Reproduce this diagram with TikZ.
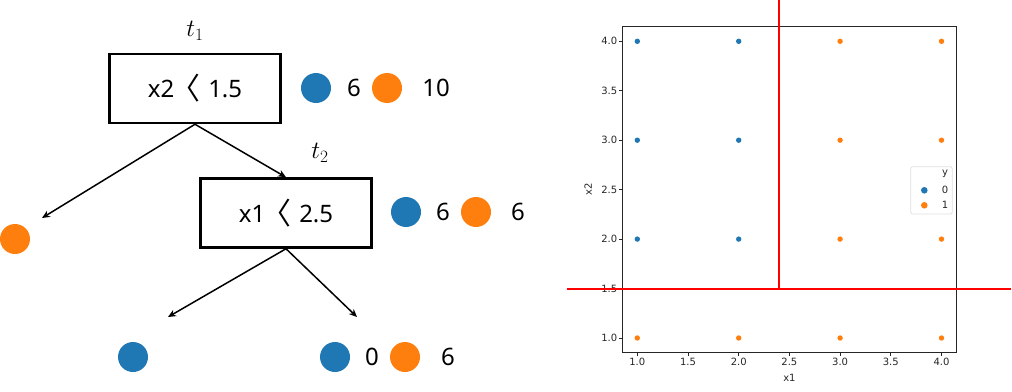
\documentclass[tikz,border=0pt]{standalone}
\usepackage{fontspec}
\setmainfont{DejaVu Sans}
\newfontfamily\treefont{Noto Sans}
\newfontfamily\cjk{Noto Sans CJK KR}
\usetikzlibrary{arrows.meta}
\definecolor{clsblue}{HTML}{1F77B4}
\definecolor{clsorange}{HTML}{FF7F0E}
\definecolor{splitred}{HTML}{FF0000}
\definecolor{spinegray}{HTML}{262626}

\begin{document}
\begin{tikzpicture}[
    x=1pt, y=-1pt,
    splitbox/.style={draw, line width=2.5pt, minimum width=171pt, minimum height=69pt,
        inner sep=0pt, font=\treefont\fontsize{24}{28}\selectfont},
    dot/.style={circle, minimum size=30pt, inner sep=0pt},
    count/.style={font=\treefont\fontsize{24}{28}\selectfont, inner sep=0pt},
    tlabel/.style={font=\fontsize{23}{26}\selectfont, inner sep=0pt},
    edge/.style={line width=1.5pt, -{Stealth[length=8pt, width=7pt]}},
    spine/.style={line width=0.8pt, spinegray},
    ticklabel/.style={font=\fontsize{10}{12}\selectfont, text=spinegray, inner sep=1pt},
    splitline/.style={line width=2pt, splitred}
]
\useasboundingbox (0,0) rectangle (1012,391);

% Tree: root split
\node[splitbox] (t1box) at (195,88.5) {x2\hspace{-4pt}\raisebox{-2pt}{\cjk\fontsize{30}{30}\selectfont 〈}\hspace{8pt}1.5};
\node[tlabel] (t1lab) at (195,31) {$t_1$};
\node[dot, fill=clsblue] (t1blue) at (316,88) {};
\node[count] (t1nblue) at (354,88) {6};
\node[dot, fill=clsorange] (t1orange) at (387,88) {};
\node[count] (t1norange) at (436,88) {10};

% Tree: second split
\node[splitbox] (t2box) at (286,213) {x1\hspace{-4pt}\raisebox{-2pt}{\cjk\fontsize{30}{30}\selectfont 〈}\hspace{8pt}2.5};
\node[tlabel] (t2lab) at (320,153) {$t_2$};
\node[dot, fill=clsblue] (t2blue) at (406,212) {};
\node[count] (t2nblue) at (443,212) {6};
\node[dot, fill=clsorange] (t2orange) at (476,212) {};
\node[count] (t2norange) at (518,212) {6};

% Leaves
\node[dot, fill=clsorange] (leafa) at (15,239) {};
\node[dot, fill=clsblue] (leafb) at (133,357) {};
\node[dot, fill=clsblue] (leafcblue) at (335,357) {};
\node[count] (leafcnblue) at (372,357) {0};
\node[dot, fill=clsorange] (leafcorange) at (405,357) {};
\node[count] (leafcnorange) at (448,357) {6};

% Edges
\coordinate (tipa) at (42,218);
\coordinate (tipb) at (168,317);
\coordinate (tipc) at (357,317);
\draw[edge] (t1box.south) -- (tipa);
\draw[edge] (t1box.south) -- (t2box.north);
\draw[edge] (t2box.south) -- (tipb);
\draw[edge] (t2box.south) -- (tipc);

% Scatter plot
\begin{scope}[shift={(535.9,436.9)}, x=101.4pt, y=98.9pt]
    \draw[spine] (0.85,0.85) rectangle (4.15,4.15);
    \foreach \t in {1.0,1.5,2.0,2.5,3.0,3.5,4.0} {
        \draw[spine] (\t,0.85) -- ++(0,-3.5pt) node[below, ticklabel] {\t};
        \draw[spine] (0.85,\t) -- ++(-3.5pt,0) node[left, ticklabel] {\t};
    }
    \node[ticklabel] (xlab) at ([yshift=-25pt]2.5,0.85) {x1};
    \node[ticklabel, rotate=90] (ylab) at ([xshift=-34pt]0.85,2.5) {x2};

    % class 0 and class 1 points
    \foreach \px in {1,2} {
        \foreach \py in {2,3,4} \fill[clsblue] (\px,\py) circle (2.7pt);
        \fill[clsorange] (\px,1) circle (2.7pt);
    }
    \foreach \px in {3,4} {
        \foreach \py in {1,2,3,4} \fill[clsorange] (\px,\py) circle (2.7pt);
    }

    % split lines
    \coordinate (vtop) at (2.4,4.42);
    \coordinate (vbot) at (2.4,1.5);
    \coordinate (hleft) at (0.304,1.5);
    \coordinate (hright) at (4.683,1.5);
    \draw[splitline] (vtop) -- (vbot);
    \draw[splitline] (hleft) -- (hright);
\end{scope}

% Legend
\draw[gray!25, line width=0.8pt, fill=white, fill opacity=0.8, rounded corners=2pt]
    (910.7,166.7) rectangle (952.3,214);
\node[ticklabel] (legtitle) at (945,174) {y};
\fill[clsblue] (924.3,190.3) circle (3.3pt);
\node[ticklabel] (leg0) at (945,190) {0};
\fill[clsorange] (924.3,205.3) circle (3.3pt);
\node[ticklabel] (leg1) at (945,205) {1};

\end{tikzpicture}
\end{document}
